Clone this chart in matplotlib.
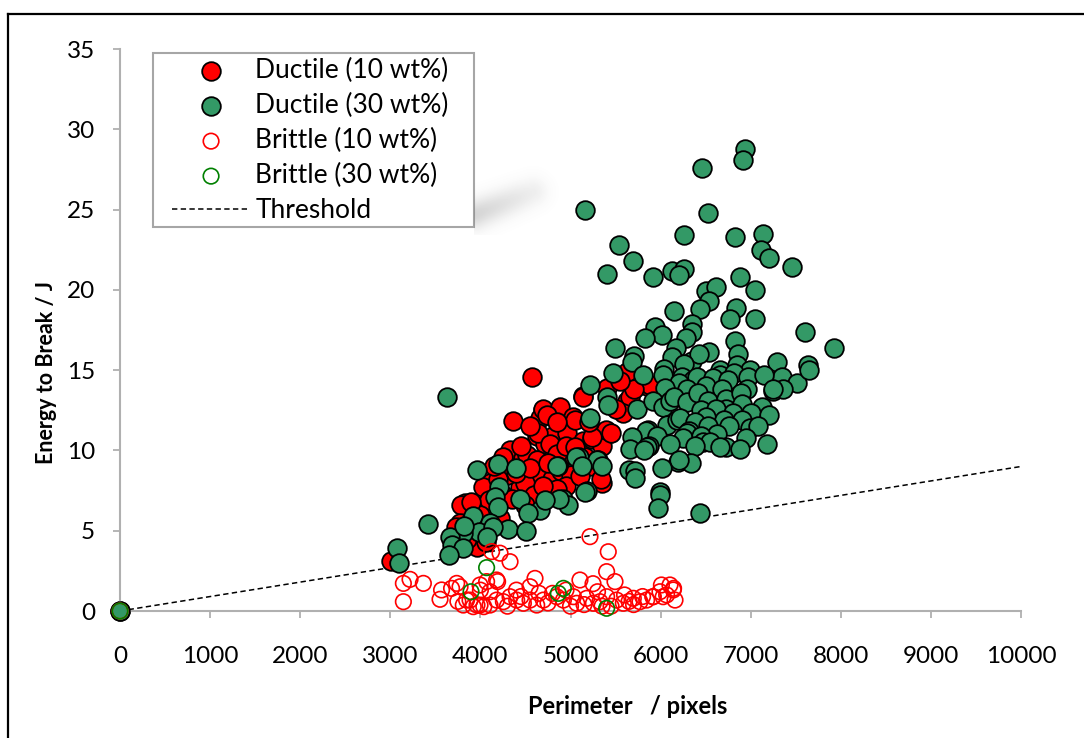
import matplotlib
matplotlib.use("Agg")
import matplotlib.pyplot as plt
from matplotlib.lines import Line2D
from matplotlib.patches import Rectangle
import numpy as np

plt.rcParams["font.family"] = ["Lato", "DejaVu Sans"]

# ---- data ----
ductile10 = [
    (0, 0), (4569, 14.6), (4362, 11.85), (4695, 12.5), (4662, 12.0), (4624, 10.9), (4717, 10.4),
    (4328, 9.9), (4421, 9.6), (4458, 9.4), (4606, 9.4), (4698, 9.1), (4107, 7.95), (4032, 7.7),
    (4254, 7.2), (4440, 7.75), (4588, 8.4), (4662, 7.5), (3829, 6.7), (3921, 6.5), (3789, 6.6),
    (3774, 5.45), (3737, 5.0), (3732, 5.25), (3958, 4.0), (3006, 3.13), (4324, 10.0), (4477, 9.5),
    (5142, 13.4), (5401, 13.9), (5623, 14.9), (5845, 14.0), (5880, 14.1), (5623, 13.1), (4698, 12.6),
    (4883, 12.7), (5031, 12.1), (4809, 10.9), (4643, 11.1), (4957, 11.1), (5142, 10.6), (5234, 10.7),
    (5438, 11.1), (5345, 10.3), (4514, 9.7), (4625, 9.4), (4809, 9.6), (5012, 9.7), (5216, 9.0),
    (5345, 8.0), (4738, 12.2), (5046, 11.9), (5143, 13.3), (5393, 11.3), (5239, 10.85), (5162, 9.6),
    (5335, 8.2), (4661, 8.4), (4777, 10.4), (4853, 9.8), (5663, 13.3), (5586, 12.3), (5451, 11.1),
    (4300, 8.5), (4200, 8.2), (4500, 8.0), (4400, 8.6), (4550, 8.9), (4100, 6.9), (4000, 6.0),
    (3900, 5.6), (3850, 4.5), (3950, 5.2), (4250, 9.6), (4150, 9.0), (4350, 7.0), (4600, 7.2),
    (4800, 8.2), (4900, 8.7), (5000, 8.5), (4950, 7.8), (5100, 8.4), (4850, 7.6), (4750, 9.2),
    (4450, 10.3), (4550, 11.5), (4850, 11.8), (4950, 10.3), (5050, 10.2), (4500, 6.6), (4700, 7.8),
    (4060, 4.3), (4220, 5.8), (3900, 6.8), (5300, 9.4), (5200, 11.8), (5500, 12.6), (5700, 13.8),
    (5550, 14.3),
]

ductile30 = [
    (0, 0),
    (6933, 28.8), (6918, 28.1), (6456, 27.6), (5166, 25.0), (6522, 24.8), (6263, 23.4), (5536, 22.8),
    (6829, 23.3), (7142, 23.5), (7118, 22.5), (7207, 22.0), (5697, 21.8), (5401, 21.0), (5921, 20.8),
    (6121, 21.2), (6263, 21.3), (6202, 20.9), (7462, 21.4), (6883, 20.8), (7053, 20.0), (6502, 19.9),
    (6610, 20.2), (6540, 19.3), (6144, 18.7), (6433, 18.8), (6841, 18.9), (6771, 18.2), (7053, 18.2),
    (6344, 17.9), (5943, 17.7), (6344, 17.4), (6021, 17.2), (5828, 17.0), (6282, 17.0), (7607, 17.4),
    (6829, 16.8), (7927, 16.4), (5496, 16.4), (5702, 15.9), (5679, 15.5), (6168, 16.4), (6121, 15.8),
    (6344, 15.6), (6541, 16.1), (6422, 16.0), (6857, 16.0), (7295, 15.5), (7638, 15.3),
    (6041, 15.1), (6263, 15.4), (6659, 15.0), (6843, 15.3), (6992, 15.0), (7342, 14.6), (7519, 14.2),
    (5475, 14.8), (5808, 14.7), (5216, 14.1), (6029, 14.7), (6241, 14.6), (6356, 14.4), (6663, 14.7),
    (6818, 14.8), (6972, 14.6), (7145, 14.7), (7646, 15.0), (6400, 14.6), (6580, 14.5), (6200, 14.2),
    (6750, 14.4), (6049, 13.9), (6289, 13.8), (6504, 14.0), (6677, 13.8), (6954, 13.8), (7251, 13.7),
    (7357, 13.8), (7242, 13.8), (5408, 13.3), (5419, 12.8), (5734, 12.6), (5919, 13.1), (6031, 12.7),
    (6105, 13.1), (6150, 13.3), (6289, 13.0), (6413, 13.55), (6530, 13.1), (6726, 13.2), (6721, 12.6),
    (6894, 13.55), (6900, 12.9), (7129, 12.7), (6450, 12.5), (6620, 12.6), (6800, 12.3), (7000, 12.3),
    (7200, 12.2), (5216, 12.0), (6067, 11.6), (6182, 11.9), (6215, 12.0), (6504, 12.1), (6380, 11.8),
    (6700, 11.9), (6900, 11.9), (6530, 11.5), (6763, 11.5), (6992, 11.4), (7085, 11.5), (5855, 11.3),
    (5836, 11.2), (6317, 11.2), (5956, 10.9), (5682, 10.85), (6297, 11.1), (6622, 11.0), (6250, 10.8),
    (6450, 10.9), (6950, 10.8), (5875, 10.3), (6104, 10.4), (5660, 10.1), (5845, 10.2), (5817, 10.0),
    (6471, 10.55), (6550, 10.5), (6380, 10.3), (6726, 10.2), (6881, 10.1), (7176, 10.4), (6663, 10.2),
    (6189, 9.3), (6337, 9.2), (6202, 9.4), (6012, 8.9), (5644, 8.8), (5716, 8.7), (5716, 8.3),
    (5993, 7.4), (5990, 7.2), (5967, 6.4), (6432, 6.1),
    (5098, 9.6), (5290, 9.4), (5345, 9.0), (4865, 9.0), (5178, 7.5), (4920, 7.0), (5065, 9.6),
    (5123, 9.0), (4853, 9.0), (4970, 6.6), (4661, 6.3), (5162, 7.4), (4873, 7.0), (4717, 6.9),
    (3958, 8.8), (4191, 9.15), (4395, 8.9), (4207, 7.7), (4162, 7.1), (4199, 6.5), (4440, 6.95),
    (4532, 6.1), (3921, 5.9), (4107, 5.45), (4303, 5.1), (4506, 5.0), (3984, 4.95), (3810, 4.85),
    (3422, 5.4), (3662, 4.6), (3681, 4.1), (3810, 3.9), (3656, 3.5), (3071, 3.9), (3102, 2.97),
    (3629, 13.3), (4145, 5.25), (4076, 4.6), (3817, 5.3),
]

brittle10 = [
    (0, 0), (3145, 0.58), (3145, 1.72), (3219, 1.97), (3367, 1.72), (3552, 0.73), (3569, 1.31),
    (3680, 1.41), (3737, 1.72), (3774, 1.51), (3847, 0.68), (3810, 0.37), (3921, 0.27), (3996, 0.37),
    (4069, 1.83), (3996, 1.62), (4107, 1.2), (4180, 1.93), (4125, 3.7), (4218, 3.6), (4329, 3.07),
    (4180, 0.68), (4107, 0.37), (4255, 0.58), (4329, 0.89), (4403, 0.68), (4477, 0.48), (4551, 0.68),
    (4625, 0.37), (4699, 0.68), (4606, 2.03), (4551, 1.51), (4847, 0.89), (4921, 0.68), (5032, 0.89),
    (5069, 0.48), (5180, 0.79), (5254, 0.48), (5327, 0.58), (5401, 0.89), (5512, 0.68), (5586, 0.48),
    (5697, 0.79), (5771, 0.58), (5845, 0.68), (5919, 0.89), (5993, 1.2), (6067, 1.0), (6141, 1.31),
    (6160, 0.68), (6104, 1.62), (5105, 1.93), (5216, 4.63), (5419, 3.69), (5401, 2.45), (5494, 1.83),
    (6009, 1.62), (6144, 1.41), (6028, 0.89), (5913, 0.89), (3885, 0.68), (3962, 0.37), (4038, 0.27),
    (4000, 1.3), (4191, 1.83), (4800, 1.1), (4950, 1.3), (5150, 0.4), (5300, 1.2), (5450, 0.3),
    (5600, 1.0), (4450, 0.9), (4750, 0.5), (5000, 0.3), (5350, 0.3), (5650, 0.6), (5800, 0.9),
    (4300, 0.3), (4650, 1.1), (5250, 1.7), (5700, 0.4), (3750, 0.6), (4400, 1.3),
]

brittle30 = [(0, 0), (4069, 2.7), (3896, 1.2), (4921, 1.41), (4865, 1.1), (5401, 0.17)]

threshold_x = [0, 10000]
threshold_y = [0, 9.0]

x_ticks = list(range(0, 10001, 1000))
y_ticks = list(range(0, 36, 5))

RED = "#ff0000"
SEA = "#339966"
DARKGREEN = "#008000"


def main() -> None:
    W, H = 1084, 738
    fig = plt.figure(figsize=(W / 100, H / 100), dpi=100)
    # axes box in pixels: x 120..1021, y 49..611
    AX0, AX1, AY0, AY1 = 120, 1021, 611, 49
    aw, ah = AX1 - AX0, AY0 - AY1
    ax = fig.add_axes([AX0 / W, 1 - AY0 / H, aw / W, ah / H])

    def axfrac(px, py):
        return (px - AX0) / aw, (AY0 - py) / ah

    ax.plot(threshold_x, threshold_y, color="black", lw=1.1, dashes=(3.5, 2.2),
            zorder=1, label="Threshold")

    d10 = np.array(ductile10)
    d30 = np.array(ductile30)
    b10 = np.array(brittle10)
    b30 = np.array(brittle30)

    h1 = ax.scatter(d10[:, 0], d10[:, 1], s=180, facecolor=RED, edgecolor="black",
                    linewidth=1.3, zorder=2, clip_on=False)
    h2 = ax.scatter(d30[:, 0], d30[:, 1], s=180, facecolor=SEA, edgecolor="black",
                    linewidth=1.3, zorder=3, clip_on=False)
    h3 = ax.scatter(b10[:, 0], b10[:, 1], s=125, facecolor="none", edgecolor=RED,
                    linewidth=1.2, zorder=4, clip_on=False)
    h4 = ax.scatter(b30[:, 0], b30[:, 1], s=125, facecolor="none", edgecolor=DARKGREEN,
                    linewidth=1.2, zorder=5, clip_on=False)
    hl = Line2D([], [], color="black", lw=1.1, dashes=(3.5, 2.2))

    ax.set_xlim(0, 10000)
    ax.set_ylim(0, 35)
    ax.set_xticks(x_ticks)
    ax.set_yticks(y_ticks)

    for side in ("top", "right"):
        ax.spines[side].set_visible(False)
    for side in ("left", "bottom"):
        ax.spines[side].set_color("#b0b0b0")
        ax.spines[side].set_linewidth(1.5)
    ax.tick_params(axis="both", direction="out", length=5, width=1.3, color="#b0b0b0",
                   labelsize=17.5, labelcolor="black")
    ax.tick_params(axis="x", pad=20)
    ax.tick_params(axis="y", pad=13)

    fig.text(628 / W, 1 - 706 / H, "Perimeter   / pixels", ha="center", va="center",
             fontsize=17, fontweight="bold")
    fig.text(47 / W, 1 - 372 / H, "Energy to Break / J", ha="center", va="center",
             rotation=90, fontsize=15.5, fontweight="bold")

    # legend frame drawn as a plain box, legend entries placed inside it
    lx0, ly0 = axfrac(153, 227)
    lx1, ly1 = axfrac(474, 53)
    ax.add_patch(Rectangle((lx0, ly0), lx1 - lx0, ly1 - ly0, transform=ax.transAxes,
                           facecolor="white", edgecolor="#a6a6a6", lw=1.5,
                           zorder=9, clip_on=False))
    leg = ax.legend([h1, h2, h3, h4, hl],
                    ["Ductile (10 wt%)", "Ductile (30 wt%)", "Brittle (10 wt%)",
                     "Brittle (30 wt%)", "Threshold"],
                    loc="upper left", bbox_to_anchor=axfrac(172, 58),
                    borderaxespad=0, borderpad=0, frameon=False, fontsize=19,
                    scatterpoints=1, handlelength=2.96, handletextpad=0.19,
                    labelspacing=0.375)
    leg.set_zorder(10)

    # soft shadow to the lower right of the legend box
    sx0, sy0, sw, sh = 474, 165, 85, 70
    px = sx0 + np.arange(sw) + 0.5
    py = sy0 + np.arange(sh) + 0.5
    PX, PY = np.meshgrid(px, py)
    ax_, ay_, bx_, by_ = 476.0, 214.0, 532.0, 192.0
    vx, vy = bx_ - ax_, by_ - ay_
    t = np.clip(((PX - ax_) * vx + (PY - ay_) * vy) / (vx * vx + vy * vy), 0, 1)
    d = np.hypot(PX - (ax_ + t * vx), PY - (ay_ + t * vy))
    alpha = 0.30 * np.exp(-d ** 2 / (2 * 10.0 ** 2)) * (1 - 0.6 * t)
    img = np.zeros((sh, sw, 4))
    img[..., :3] = 0.45
    img[..., 3] = alpha
    sax = fig.add_axes([sx0 / W, 1 - (sy0 + sh) / H, sw / W, sh / H])
    sax.imshow(img, aspect="auto", interpolation="bilinear")
    sax.set_axis_off()

    # outer chart border (top and left visible)
    fig.add_artist(Line2D([7.5 / W, 1], [1 - 14 / H, 1 - 14 / H], color="black", lw=1.6,
                          transform=fig.transFigure))
    fig.add_artist(Line2D([7.5 / W, 7.5 / W], [0, 1 - 14 / H], color="black", lw=1.6,
                          transform=fig.transFigure))

    fig.savefig("out.png", dpi=100)


if __name__ == "__main__":
    main()
